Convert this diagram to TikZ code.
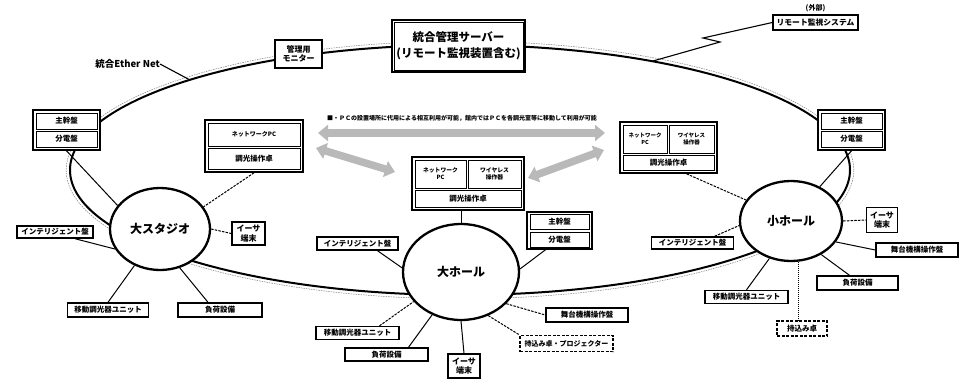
\documentclass[tikz,border=0pt]{standalone}
\usepackage{fontspec}
\setmainfont{Noto Sans CJK JP}
\usetikzlibrary{shapes.geometric,arrows.meta}
\newcommand\fz[1]{\bfseries\fontsize{#1}{\dimexpr #1pt*12/10\relax}\selectfont}
\begin{document}
\begin{tikzpicture}[x=1pt,y=-1pt,
  box/.style={draw, line width=1.4pt, fill=white, inner sep=0pt, align=center, font=\fz{7.5}},
  outerbox/.style={draw, line width=1.6pt, fill=white, inner sep=0pt},
  cellbox/.style={draw, line width=0.6pt, fill=white, inner sep=0pt, align=center},
  hall/.style={ellipse, draw, line width=2.3pt, fill=white, inner sep=0pt, font=\fz{12}},
  conn/.style={line width=1pt},
  dconn/.style={line width=1pt, dash pattern=on 2.5pt off 1.2pt},
  dotconn/.style={line width=1pt, dash pattern=on 1pt off 1pt},
  garrow/.style={line width=7.5pt, draw=gray!55, {Triangle[width=16pt,length=10pt]}-{Triangle[width=16pt,length=10pt]}},
]
\useasboundingbox[fill=white] (0,0) rectangle (968,380);

% Ether ring
\draw[line width=0.5pt, gray, dash pattern=on 1.5pt off 1pt] (460,170) ellipse [x radius=393.8pt, y radius=128.8pt];
\draw[line width=2pt] (460,170) ellipse [x radius=390pt, y radius=125pt];

% remote link
\coordinate (J) at (653,61);
\coordinate (Z1) at (720,42);
\coordinate (Z2) at (703,38);
\node[box, minimum width=85pt, minimum height=15pt, font=\fz{7.8}] (remote) at (815.5,22.5) {リモート監視システム};
\node[font=\fz{7}, inner sep=0pt] (ext) at (815.5,8) {(外部)};
\draw[line width=1.1pt] (J) -- (Z1) -- (Z2) -- (remote.west);

% server
\node[outerbox, minimum width=133pt, minimum height=52pt, align=center, font=\fz{11.5}] (server) at (458.5,46) {統合管理サーバー\\[2pt](リモート監視装置含む)};
\draw[line width=0.6pt] ([shift={(3pt,-3pt)}]server.north west) rectangle ([shift={(-3pt,3pt)}]server.south east);

% monitor
\node[box, minimum width=47pt, minimum height=28pt, font=\fz{8}] (monitor) at (298.5,54) {管理用\\モニター};

% Ether label
\node[font=\fz{9.5}, inner sep=0pt, anchor=east] (eth) at (160,64) {統合Ether Net};
\coordinate (ep) at (190,80);
\draw[line width=1.1pt] (eth.east) -- (ep);

% panels (main / distribution)
\node[outerbox, minimum width=67pt, minimum height=40pt] (L1) at (66.5,130) {};
\node[cellbox, minimum width=61pt, minimum height=16pt, font=\fz{7.5}] (L1a) at (66.5,121) {主幹盤};
\node[cellbox, minimum width=61pt, minimum height=16pt, font=\fz{7.5}] (L1b) at (66.5,139) {分電盤};

\node[outerbox, minimum width=67pt, minimum height=40pt] (R1) at (851.5,130) {};
\node[cellbox, minimum width=61pt, minimum height=16pt, font=\fz{7.5}] (R1a) at (851.5,121) {主幹盤};
\node[cellbox, minimum width=61pt, minimum height=16pt, font=\fz{7.5}] (R1b) at (851.5,139) {分電盤};

\node[outerbox, minimum width=65pt, minimum height=37pt] (M1) at (559.5,230.5) {};
\node[cellbox, minimum width=59pt, minimum height=15pt, font=\fz{7.5}] (M1a) at (559.5,221.5) {主幹盤};
\node[cellbox, minimum width=59pt, minimum height=15pt, font=\fz{7.5}] (M1b) at (559.5,239.5) {分電盤};

% consoles
\node[outerbox, minimum width=98pt, minimum height=52pt] (LC) at (254,146) {};
\node[cellbox, minimum width=92pt, minimum height=23pt, font=\fz{6}] (LCa) at (254,134.5) {ネットワークPC};
\node[cellbox, minimum width=92pt, minimum height=21pt, font=\fz{7.5}] (LCb) at (254,158.5) {調光操作卓};

\node[outerbox, minimum width=112pt, minimum height=53pt] (MC) at (468,183.5) {};
\node[cellbox, minimum width=51pt, minimum height=28pt, font=\fz{5.8}] (MCa) at (440.5,174) {ネットワーク\\PC};
\node[cellbox, minimum width=53pt, minimum height=28pt, font=\fz{5.8}] (MCb) at (494.5,174) {ワイヤレス\\操作器};
\node[cellbox, minimum width=106pt, minimum height=17pt, font=\fz{7.5}] (MCc) at (468,198.5) {調光操作卓};

\node[outerbox, minimum width=97pt, minimum height=51pt] (RC) at (668.5,147.5) {};
\node[cellbox, minimum width=44pt, minimum height=28pt, font=\fz{5.5}] (RCa) at (645,139) {ネットワーク\\PC};
\node[cellbox, minimum width=45pt, minimum height=28pt, font=\fz{5.5}] (RCb) at (691.5,139) {ワイヤレス\\操作器};
\node[cellbox, minimum width=91pt, minimum height=15pt, font=\fz{7.5}] (RCc) at (668.5,162.5) {調光操作卓};

% arrows and note
\node[font=\fz{6}, inner sep=0pt] (note) at (462,118) {■・ＰＣの設置場所に代用による相互利用が可能，館内ではＰＣを各調光室等に移動して利用が可能};
\coordinate (A1a) at (318,133); \coordinate (A1b) at (605,133);
\coordinate (A2a) at (316,148); \coordinate (A2b) at (395,172);
\coordinate (A3a) at (528,178); \coordinate (A3b) at (604,150);
\draw[garrow] (A1a) -- (A1b);
\draw[garrow] (A2a) -- (A2b);
\draw[garrow] (A3a) -- (A3b);

% halls
\node[hall, minimum width=100pt, minimum height=82pt] (studio) at (160,229) {大スタジオ};
\node[hall, minimum width=116pt, minimum height=96pt] (bighall) at (461,272) {大ホール};
\node[hall, minimum width=102pt, minimum height=80pt] (smallhall) at (791,221) {小ホール};

% studio devices
\node[box, minimum width=76pt, minimum height=12pt] (SI) at (55,232) {インテリジェント盤};
\node[box, minimum width=33pt, minimum height=23pt, font=\fz{8}] (SE) at (248.5,233.5) {イーサ\\端末};
\node[box, minimum width=81pt, minimum height=14pt] (SM) at (108,310) {移動調光器ユニット};
\node[box, minimum width=84pt, minimum height=14pt] (SL) at (220,310) {負荷設備};

% big hall devices
\node[box, minimum width=81pt, minimum height=13pt] (BI) at (357.5,243.5) {インテリジェント盤};
\node[box, minimum width=83pt, minimum height=13pt] (BM) at (357.5,333) {移動調光器ユニット};
\node[box, minimum width=83pt, minimum height=13pt] (BL) at (386.5,354.5) {負荷設備};
\node[box, minimum width=32pt, minimum height=24pt, font=\fz{8}] (BE) at (464,366) {イーサ\\端末};
\node[box, dash pattern=on 3pt off 1.5pt, minimum width=93pt, minimum height=16pt, font=\fz{7}] (BP) at (566.5,343.5) {持込み卓・プロジェクター};
\node[box, minimum width=82pt, minimum height=14pt] (BS) at (587,315) {舞台機構操作盤};

% small hall devices
\node[box, minimum width=31pt, minimum height=25pt, font=\fz{8}] (SE2) at (882,220) {イーサ\\端末};
\node[box, minimum width=82pt, minimum height=12pt] (SI2) at (692.5,243) {インテリジェント盤};
\node[box, minimum width=82pt, minimum height=14pt] (SS2) at (917,250) {舞台機構操作盤};
\node[box, minimum width=81pt, minimum height=14pt] (SL2) at (857.5,283) {負荷設備};
\node[box, minimum width=83pt, minimum height=13pt] (SM2) at (746.5,297) {移動調光器ユニット};
\node[box, dash pattern=on 3pt off 1.5pt, minimum width=50pt, minimum height=15pt] (SP2) at (802,328.5) {持込み卓};

% studio connections
\draw[conn] (L1.south) -- (studio.151);
\draw[dconn] (LC.south) -- (studio.27);
\draw[dconn] (studio.east) -- (SE.west);
\draw[conn] ([xshift=20pt]SI.south) -- (studio.204);
\draw[conn] (SM.north) -- (studio.235);
\draw[conn] ([xshift=-12pt]SL.north) -- (studio.297);

% big hall connections
\draw[conn] (bighall.north) -- (bighall.north |- MC.south);
\draw[conn] ([xshift=-14pt]M1.south) -- (bighall.3);
\draw[conn] ([xshift=20pt]BI.south) -- (bighall.176);
\draw[dconn] ([xshift=22pt]BM.north) -- (bighall.212);
\draw[conn] ([xshift=22pt]BL.north) -- (bighall.236);
\draw[conn] (BE.north) -- (bighall.south);
\draw[dconn] (bighall.302) -- (BP.north west);
\draw[dconn] (bighall.325) -- (BS.west);

% small hall connections
\draw[conn] (R1.south) -- (smallhall.50);
\draw[dconn] ([xshift=18pt]RC.south) -- (smallhall.155);
\draw[dconn] (smallhall.east) -- (SE2.west);
\draw[dconn] ([xshift=22pt]SI2.north) -- (smallhall.185);
\draw[conn] (smallhall.335) -- (SS2.west);
\draw[conn] (smallhall.312) -- ([xshift=-8pt]SL2.north);
\draw[conn] (smallhall.240) -- (SM2.north);
\draw[dotconn] (smallhall.280) -- (smallhall.280 |- SP2.north);
\end{tikzpicture}
\end{document}
